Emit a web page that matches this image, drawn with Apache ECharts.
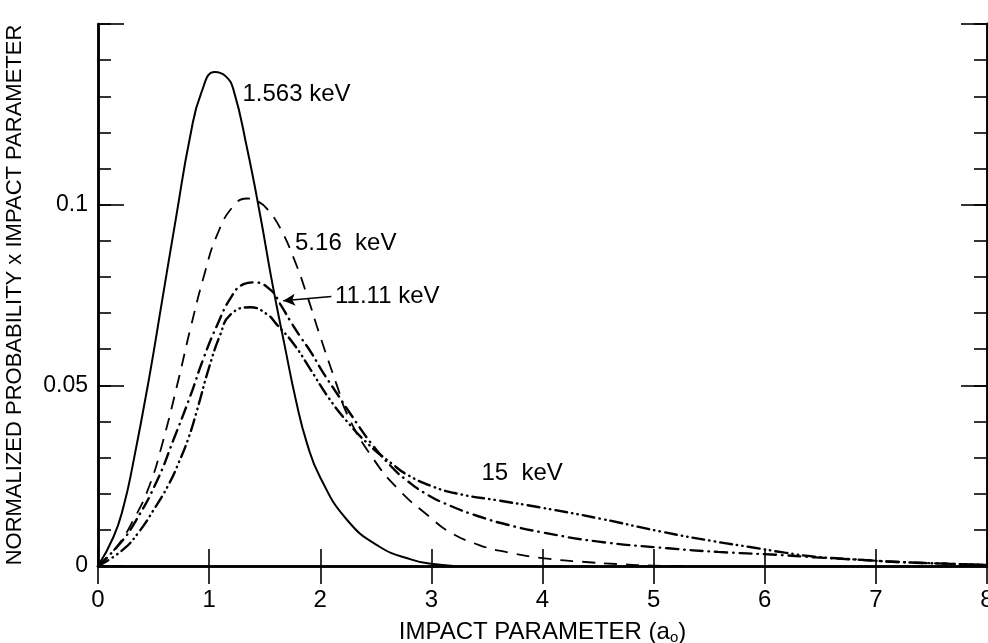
<!DOCTYPE html>
<html><head><meta charset="utf-8">
<script src="https://cdn.jsdelivr.net/npm/echarts@6/dist/echarts.min.js"></script>
<style>html,body{margin:0;padding:0;background:#fff}#c{width:988px;height:643px}</style>
</head><body><div id="c"></div>
<script>
// ---- data ----
const xTickLabels = ['0','1','2','3','4','5','6','7','8'];
const yTickLabels = { '0': '0', '0.05': '0.05', '0.1': '0.1' };
const seriesNames = ['1.563 keV', '5.16 keV', '11.11 keV', '15 keV'];

const kev1563 = [[0,0],[0.14,0.0081],[0.23,0.0165],[0.31,0.0275],[0.46,0.052],[0.58,0.074],[0.70,0.096],[0.83,0.119],[0.93,0.131],[1.05,0.1367],[1.15,0.1355],[1.22,0.1317],[1.34,0.1158],[1.46,0.097],[1.57,0.078],[1.68,0.061],[1.78,0.046],[1.88,0.034],[2.0,0.0245],[2.24,0.0128],[2.53,0.0054],[2.83,0.0017],[3.0,0.0006],[3.2,0]];
const kev516 = [[0,0],[0.17,0.0054],[0.32,0.0128],[0.46,0.022],[0.58,0.034],[0.725,0.0517],[0.83,0.0655],[0.96,0.081],[1.07,0.0915],[1.215,0.0995],[1.34,0.1017],[1.45,0.1007],[1.53,0.0985],[1.64,0.0935],[1.77,0.0845],[1.88,0.075],[2.0,0.0635],[2.15,0.050],[2.25,0.0415],[2.47,0.0300],[2.71,0.0210],[2.98,0.0137],[3.16,0.0095],[3.43,0.0058],[3.7,0.0037],[4.0,0.0022],[4.35,0.0012],[4.7,0.0005],[5.0,0.0001],[5.3,0]];
const kev1111 = [[0,0],[0.2,0.0063],[0.34,0.0125],[0.53,0.0235],[0.68,0.035],[0.83,0.047],[0.95,0.0575],[1.07,0.0665],[1.2,0.0745],[1.31,0.0780],[1.4,0.0785],[1.55,0.0765],[1.64,0.0725],[1.73,0.0678],[1.82,0.0635],[1.92,0.059],[2.02,0.0538],[2.145,0.048],[2.265,0.0424],[2.47,0.0335],[2.65,0.0272],[2.77,0.0239],[2.95,0.0200],[3.16,0.0168],[3.43,0.0137],[3.7,0.0113],[4.0,0.0093],[4.49,0.0068],[5.13,0.0049],[5.58,0.0039],[6.1,0.0031],[6.45,0.0024],[6.87,0.0017],[7.2,0.0011],[7.68,0.0006],[8.0,0.0003]];
const kev15 = [[0,0],[0.22,0.0044],[0.37,0.0095],[0.5,0.0155],[0.635,0.0225],[0.725,0.0285],[0.815,0.0355],[0.89,0.043],[1.0,0.055],[1.1,0.064],[1.19,0.0695],[1.37,0.0716],[1.52,0.0697],[1.61,0.0668],[1.76,0.0615],[1.91,0.0545],[2.07,0.0468],[2.235,0.0402],[2.44,0.0335],[2.65,0.0282],[2.77,0.0255],[3.01,0.0220],[3.27,0.0198],[3.59,0.0182],[3.98,0.0162],[4.52,0.0131],[5.07,0.0095],[5.55,0.0068],[5.88,0.0052],[6.18,0.0037],[6.45,0.0026],[6.87,0.0017],[7.2,0.0011],[7.68,0.0006],[8.0,0.0003]];

// annotation anchors (data coordinates)
const annotations = [
  { text: '1.563 keV', at: [1.3, 0.1305] },
  { text: '5.16  keV', at: [1.773, 0.0892] },
  { text: '11.11 keV', at: [2.133, 0.0747] },
  { text: '15  keV', at: [3.45, 0.0255] }
];
const arrow1111 = [[2.1, 0.0746], [1.667, 0.0734]];

// ---- chart ----
const FONT = '"Liberation Sans", Arial, sans-serif';
const chart = echarts.init(document.getElementById('c'), null, { renderer: 'canvas' });
const axisLine = { show: true, lineStyle: { color: '#000', width: 2.5 } };
function yAx(pos, interval, len, labels) {
  return {
    type: 'value', position: pos, min: 0, max: 0.15, interval: interval,
    axisLine: axisLine,
    axisTick: { show: true, inside: true, length: len, lineStyle: { color: '#000', width: 1.6 } },
    splitLine: { show: false },
    axisLabel: labels ? {
      show: true, color: '#000', fontFamily: FONT, fontSize: 23, margin: 10,
      formatter: v => { const k = String(+v.toFixed(2)); return yTickLabels[k] !== undefined ? yTickLabels[k] : ''; }
    } : { show: false }
  };
}
const lineBase = { type: 'line', showSymbol: false, symbol: 'none', smooth: 0.5, silent: true, z: 3 };

chart.setOption({
  backgroundColor: '#fff',
  animation: false,
  grid: { left: 98, right: 1, top: 24, bottom: 77, containLabel: false, outerBoundsMode: 'none' },
  xAxis: [
    {
      type: 'value', position: 'bottom', min: 0, max: 8, interval: 1,
      axisLine: axisLine,
      axisTick: { show: true, inside: true, length: 17, lineStyle: { color: '#000', width: 1.6 } },
      splitLine: { show: false },
      axisLabel: { show: true, color: '#000', fontFamily: FONT, fontSize: 24, margin: 22,
        formatter: v => xTickLabels[Math.round(v)] },
      name: '{n|IMPACT PARAMETER (a}{s|o}{n|)}',
      nameLocation: 'middle', nameGap: 54,
      nameTextStyle: { rich: {
        n: { fontFamily: FONT, fontSize: 24, color: '#000' },
        s: { fontFamily: FONT, fontSize: 15, color: '#000', padding: [10, 0, 0, 0] }
      } }
    },
    {
      type: 'value', position: 'top', min: 0, max: 8, interval: 1,
      axisLine: axisLine,
      axisTick: { show: true, inside: true, length: 18, lineStyle: { color: '#000', width: 1.6 } },
      splitLine: { show: false }, axisLabel: { show: false }
    }
  ],
  yAxis: [
    Object.assign(yAx('left', 0.05, 26, true), {
      name: 'NORMALIZED PROBABILITY x IMPACT PARAMETER',
      nameLocation: 'middle', nameGap: 72, nameRotate: 90,
      nameTextStyle: { fontFamily: FONT, fontSize: 22, color: '#000' }
    }),
    yAx('left', 0.01, 13, false),
    yAx('right', 0.05, 26, false),
    yAx('right', 0.01, 13, false)
  ],
  series: [
    Object.assign({}, lineBase, { name: seriesNames[0], data: kev1563,
      lineStyle: { color: '#000', width: 2 } }),
    Object.assign({}, lineBase, { name: seriesNames[1], data: kev516,
      lineStyle: { color: '#000', width: 1.8, type: [13, 9] } }),
    Object.assign({}, lineBase, { name: seriesNames[2], data: kev1111,
      lineStyle: { color: '#000', width: 2.4, type: [12, 6, 0.5, 6], cap: 'round' },
      markLine: { silent: true, symbol: ['none', 'arrow'], symbolSize: [9, 12],
        lineStyle: { color: '#000', width: 1.6, type: 'solid' }, label: { show: false },
        data: [[{ coord: arrow1111[0] }, { coord: arrow1111[1] }]] } }),
    Object.assign({}, lineBase, { name: seriesNames[3], data: kev15,
      lineStyle: { color: '#000', width: 2.4, type: [12, 5, 0.5, 5, 0.5, 5], cap: 'round' } })
  ]
});

const g = annotations.map(a => {
  const p = chart.convertToPixel({ xAxisIndex: 0, yAxisIndex: 0 }, a.at);
  return { type: 'text', x: p[0], y: p[1], z: 10, silent: true,
    style: { text: a.text, fill: '#000', font: '24px ' + FONT, align: 'left', verticalAlign: 'middle' } };
});
chart.setOption({ graphic: g });
</script>
</body></html>
